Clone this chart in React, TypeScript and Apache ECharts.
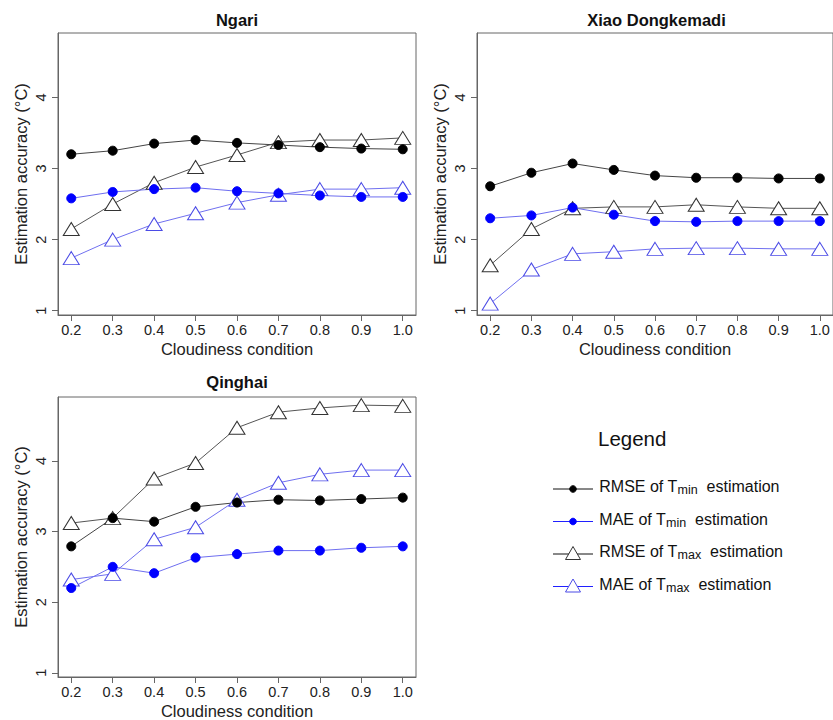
import React, { useEffect, useRef } from 'react';
import * as echarts from 'echarts';

const FONT = '"Liberation Sans", Arial, Helvetica, sans-serif';

// Cloudiness conditions (x axis)
const cloudiness = [0.2, 0.3, 0.4, 0.5, 0.6, 0.7, 0.8, 0.9, 1.0];
const yTickValues = [1, 2, 3, 4];

// Ngari
const ngariRmseTmin = [3.20, 3.25, 3.35, 3.40, 3.36, 3.33, 3.30, 3.28, 3.27];
const ngariMaeTmin = [2.58, 2.67, 2.71, 2.73, 2.68, 2.65, 2.62, 2.60, 2.60];
const ngariRmseTmax = [2.15, 2.50, 2.80, 3.02, 3.19, 3.37, 3.40, 3.40, 3.43];
const ngariMaeTmax = [1.74, 2.00, 2.22, 2.37, 2.52, 2.63, 2.71, 2.71, 2.73];

// Xiao Dongkemadi
const xiaoRmseTmin = [2.75, 2.94, 3.07, 2.98, 2.90, 2.87, 2.87, 2.86, 2.86];
const xiaoMaeTmin = [2.30, 2.34, 2.45, 2.35, 2.26, 2.25, 2.26, 2.26, 2.26];
const xiaoRmseTmax = [1.64, 2.15, 2.44, 2.46, 2.46, 2.49, 2.46, 2.44, 2.44];
const xiaoMaeTmax = [1.10, 1.58, 1.80, 1.83, 1.87, 1.88, 1.88, 1.87, 1.87];

// Qinghai
const qinghaiRmseTmin = [2.79, 3.19, 3.14, 3.35, 3.41, 3.45, 3.44, 3.46, 3.48];
const qinghaiMaeTmin = [2.20, 2.50, 2.41, 2.63, 2.68, 2.73, 2.73, 2.77, 2.79];
const qinghaiRmseTmax = [3.12, 3.19, 3.75, 3.97, 4.47, 4.69, 4.75, 4.79, 4.78];
const qinghaiMaeTmax = [2.32, 2.40, 2.89, 3.06, 3.45, 3.69, 3.81, 3.87, 3.87];

const seriesNames = [
  'RMSE of Tmin estimation',
  'MAE of Tmin estimation',
  'RMSE of Tmax estimation',
  'MAE of Tmax estimation',
];

const panels = [
  {
    title: 'Ngari',
    grid: { left: 58, top: 33, width: 358, height: 282 },
    titleY: 19.5,
    data: [ngariRmseTmin, ngariMaeTmin, ngariRmseTmax, ngariMaeTmax],
  },
  {
    title: 'Xiao Dongkemadi',
    grid: { left: 477, top: 33, width: 359, height: 282 },
    titleY: 19.5,
    data: [xiaoRmseTmin, xiaoMaeTmin, xiaoRmseTmax, xiaoMaeTmax],
  },
  {
    title: 'Qinghai',
    grid: { left: 58, top: 397, width: 358, height: 281 },
    titleY: 381.7,
    data: [qinghaiRmseTmin, qinghaiMaeTmin, qinghaiRmseTmax, qinghaiMaeTmax],
  },
];

const styles = [
  { symbol: 'circle', size: 9, fill: '#000000', border: '#000000', line: '#444444' },
  { symbol: 'circle', size: 9, fill: '#0000ff', border: '#0000ff', line: '#6e6ef0' },
  { symbol: 'triangle', size: [16, 13], fill: '#ffffff', border: '#333333', line: '#555555' },
  { symbol: 'triangle', size: [16, 13], fill: '#ffffff', border: '#4b4be6', line: '#7070f0' },
];

const drawOrder = [2, 3, 0, 1];

export default function App() {
  const ref = useRef<HTMLDivElement>(null);

  useEffect(() => {
    if (!ref.current) return;
    const chart = echarts.init(ref.current, undefined, { renderer: 'svg' });

    const grids = panels.map((p) => ({
      ...p.grid,
      show: true,
      borderColor: '#666666',
      borderWidth: 1,
      backgroundColor: 'transparent',
      containLabel: false,
    }));

    const xAxes = panels.map((_, i) => ({
      type: 'value',
      gridIndex: i,
      min: 0.168,
      max: 1.032,
      axisLine: { show: true, lineStyle: { color: '#666666', width: 1 } },
      axisTick: { show: true, customValues: cloudiness, length: 6, lineStyle: { color: '#666666' } },
      axisLabel: {
        customValues: cloudiness,
        formatter: (v: number) => v.toFixed(1),
        margin: 7,
        fontSize: 14.5,
        color: '#222222',
        fontFamily: FONT,
      },
      splitLine: { show: false },
      name: 'Cloudiness condition',
      nameLocation: 'middle',
      nameGap: 25,
      nameTextStyle: { fontSize: 16.5, color: '#222222', fontFamily: FONT },
    }));

    const yAxes = panels.map((_, i) => ({
      type: 'value',
      gridIndex: i,
      min: 0.94,
      max: 4.905,
      axisLine: { show: true, lineStyle: { color: '#666666', width: 1 } },
      axisTick: { show: true, customValues: yTickValues, length: 6, lineStyle: { color: '#666666' } },
      axisLabel: {
        customValues: yTickValues,
        formatter: (v: number) => String(v),
        rotate: 90,
        margin: 10,
        fontSize: 14.5,
        color: '#222222',
        fontFamily: FONT,
      },
      splitLine: { show: false },
      name: 'Estimation accuracy (°C)',
      nameLocation: 'middle',
      nameGap: 29,
      nameTextStyle: { fontSize: 16.5, color: '#222222', fontFamily: FONT },
    }));

    const series: any[] = [];
    panels.forEach((p, gi) => {
      drawOrder.forEach((k) => {
        const s = styles[k];
        series.push({
          type: 'line',
          name: seriesNames[k],
          xAxisIndex: gi,
          yAxisIndex: gi,
          data: cloudiness.map((x, j) => [x, p.data[k][j]]),
          symbol: s.symbol,
          symbolSize: s.size,
          showSymbol: true,
          itemStyle: { color: s.fill, borderColor: s.border, borderWidth: 1, opacity: 1 },
          lineStyle: { color: s.line, width: 1 },
          emphasis: { disabled: true },
          silent: true,
          clip: false,
        });
      });
    });

    const graphics: any[] = [];
    panels.forEach((p) => {
      graphics.push({
        type: 'text',
        x: p.grid.left + p.grid.width / 2,
        y: p.titleY,
        style: {
          text: p.title,
          fontSize: 16.5,
          fontWeight: 'bold',
          fontFamily: FONT,
          fill: '#111111',
          align: 'center',
          verticalAlign: 'middle',
          textAlign: 'center',
          textVerticalAlign: 'middle',
        },
      });
    });

    // Legend
    graphics.push({
      type: 'text',
      x: 598,
      y: 438,
      style: {
        text: 'Legend',
        fontSize: 20.5,
        fontFamily: FONT,
        fill: '#111111',
        align: 'left',
        verticalAlign: 'middle',
        textAlign: 'left',
        textVerticalAlign: 'middle',
      },
    });

    const legendRows = [
      { textY: 486.5, lineY: 489, k: 0, pre: 'RMSE of T', sub: 'min' },
      { textY: 519, lineY: 521.5, k: 1, pre: 'MAE of T', sub: 'min' },
      { textY: 551.5, lineY: 554, k: 2, pre: 'RMSE of T', sub: 'max' },
      { textY: 584, lineY: 586.5, k: 3, pre: 'MAE of T', sub: 'max' },
    ];
    legendRows.forEach((r) => {
      const s = styles[r.k];
      const lineColor = r.k % 2 === 0 ? '#111111' : '#2020ff';
      graphics.push({
        type: 'line',
        shape: { x1: 553, y1: r.lineY, x2: 593, y2: r.lineY },
        style: { stroke: lineColor, lineWidth: 1 },
      });
      if (s.symbol === 'circle') {
        graphics.push({
          type: 'circle',
          shape: { cx: 573, cy: r.lineY, r: 3.3 },
          style: { fill: s.fill, stroke: s.border, lineWidth: 1 },
        });
      } else {
        const cy = r.lineY - 1;
        graphics.push({
          type: 'polygon',
          shape: {
            points: [
              [573, cy - 6.5],
              [580.5, cy + 6.5],
              [565.5, cy + 6.5],
            ],
          },
          style: { fill: '#ffffff', stroke: s.border, lineWidth: 1 },
        });
      }
      graphics.push({
        type: 'text',
        x: 599.3,
        y: r.textY,
        style: {
          text: `{a|${r.pre}}{s|${r.sub}}{a|  estimation}`,
          fontFamily: FONT,
          align: 'left',
          verticalAlign: 'middle',
          textAlign: 'left',
          textVerticalAlign: 'middle',
          rich: {
            a: { fontSize: 16, fontFamily: FONT, fill: '#111111', color: '#111111', lineHeight: 20, verticalAlign: 'middle' },
            s: { fontSize: 12.5, fontFamily: FONT, fill: '#111111', color: '#111111', lineHeight: 12, verticalAlign: 'bottom' },
          },
        },
      });
    });

    chart.setOption({
      animation: false,
      backgroundColor: '#ffffff',
      grid: grids,
      xAxis: xAxes,
      yAxis: yAxes,
      series,
      graphic: { elements: graphics },
    });

    return () => {
      chart.dispose();
    };
  }, []);

  return (
    <div
      ref={ref}
      style={{ position: 'absolute', left: 0, top: 0, width: 833, height: 720 }}
    />
  );
}
